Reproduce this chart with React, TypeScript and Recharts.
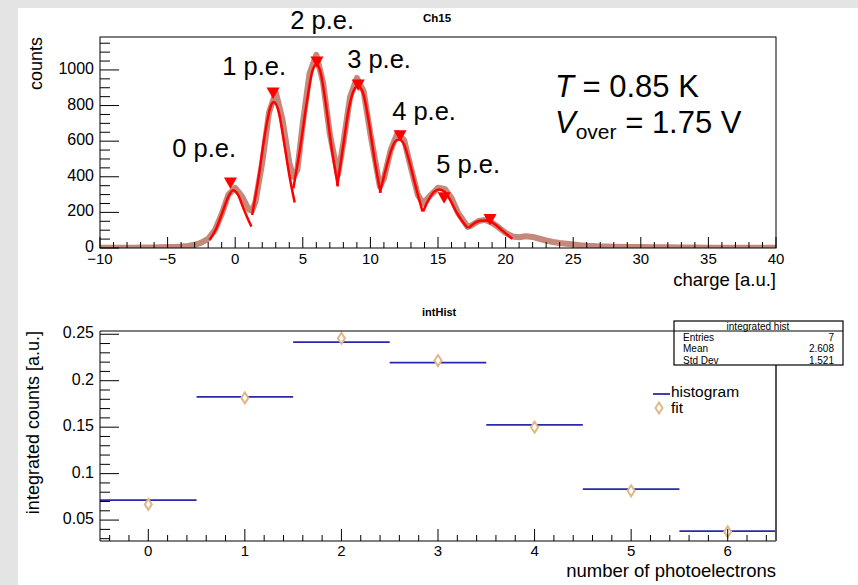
import React from 'react';
import { ComposedChart, Line, Scatter, XAxis, YAxis, ReferenceDot } from 'recharts';

const FONT = '"Liberation Sans", Arial, Helvetica, sans-serif';

// charge spectrum (bin centre, counts)
const histCharge = [
  -10, -9.5, -9, -8.5, -8, -7.5, -7, -6.5, -6, -5.5, -5, -4.5, -4, -3.5, -3, -2.5, -2, -1.5, -1, -0.5,
  0, 0.5, 1, 1.25, 1.5, 2, 2.5, 3, 3.5, 4, 4.3, 4.6, 5, 5.5, 6, 6.5, 7, 7.6, 8, 8.5, 9, 9.5, 10, 10.7,
  11, 11.5, 12, 12.5, 13, 13.5, 13.9, 14.5, 15, 15.5, 16, 16.5, 17.2, 17.5, 18, 18.5, 19, 19.5, 20, 20.5,
  21, 21.5, 22, 22.5, 23, 23.5, 24, 24.5, 25, 25.5, 26, 26.5, 27, 27.5, 28, 29, 30, 31, 32, 33, 34, 35,
  36, 37, 38, 39, 40,
];
const histCounts = [
  2, 2, 2, 2, 2, 2, 3, 3, 3, 4, 5, 6, 8, 12, 18, 30, 52, 100, 190, 300,
  338, 290, 215, 210, 260, 480, 760, 875, 720, 480, 400, 440, 700, 980, 1085, 930, 640, 410, 590, 850, 955, 880, 640, 345,
  390, 550, 645, 605, 450, 300, 250, 300, 338, 332, 280, 195, 118, 128, 152, 158, 142, 115, 85, 65,
  60, 66, 62, 52, 42, 34, 28, 24, 20, 16, 13, 11, 9, 8, 7, 6, 5, 4, 4, 3, 3, 2,
  2, 2, 2, 1, 1,
];

// gaussian fit pieces, one per peak
const fitCharge = [
  [-1.9, -1.4, -0.9, -0.5, -0.15, 0.2, 0.6, 0.9, 1.2],
  [1.25, 1.7, 2.2, 2.6, 2.85, 3.2, 3.6, 4.0, 4.4],
  [4.3, 4.8, 5.3, 5.7, 6.0, 6.3, 6.7, 7.1, 7.6],
  [7.55, 8.0, 8.4, 8.8, 9.1, 9.5, 9.9, 10.3, 10.75],
  [10.7, 11.1, 11.5, 11.85, 12.15, 12.5, 12.9, 13.3, 13.85],
  [13.9, 14.3, 14.7, 15.1, 15.5, 15.9, 16.3, 16.8, 17.2],
  [17.25, 17.7, 18.1, 18.5, 18.9, 19.3, 19.7, 20.1, 20.5],
];
const fitCounts = [
  [45, 110, 210, 290, 325, 300, 225, 170, 120],
  [185, 380, 640, 790, 820, 770, 600, 410, 255],
  [335, 560, 820, 990, 1030, 990, 810, 580, 345],
  [350, 580, 780, 890, 910, 860, 700, 500, 310],
  [310, 430, 540, 600, 610, 580, 480, 360, 205],
  [205, 270, 315, 328, 315, 270, 210, 150, 112],
  [112, 140, 153, 155, 148, 128, 102, 76, 52],
];

// found peaks
const peakCharge = [-0.35, 2.8, 6.05, 9.1, 12.2, 15.45, 18.85];
const peakCounts = [365, 870, 1045, 915, 630, 282, 160];

const peakLabels = ['0 p.e.', '1 p.e.', '2 p.e.', '3 p.e.', '4 p.e.', '5 p.e.'];
const labelCharge = [-4.66, -0.96, 4.07, 8.28, 11.61, 14.87];
const labelCounts = [511, 972, 1230, 1011, 719, 421];

const topXMajor = [-10, -5, 0, 5, 10, 15, 20, 25, 30, 35, 40];
const topYMajor = [0, 200, 400, 600, 800, 1000];

// integrated histogram
const nPe = [0, 1, 2, 3, 4, 5, 6];
const histFrac = [0.0715, 0.1825, 0.2415, 0.2195, 0.1525, 0.0833, 0.0382];
const fitFrac = [0.0669, 0.1815, 0.2457, 0.2217, 0.1500, 0.0815, 0.0374];
const botYMajor = [0.05, 0.1, 0.15, 0.2, 0.25];
const botYLabels = ['0.05', '0.1', '0.15', '0.2', '0.25'];

const statsNames = ['Entries', 'Mean', 'Std Dev'];
const statsValues = ['7', '2.608', '1.521'];

const range = (a: number, b: number, step: number, dp: number) => {
  const out: number[] = [];
  for (let v = a; v <= b + step / 2; v += step) out.push(+v.toFixed(dp));
  return out;
};

const topXTicks = range(-10, 40, 1, 0);
const topYTicks = range(0, 1150, 50, 0);
const botXTicks = range(-0.4, 6.4, 0.2, 1);
const botYTicks = range(0.03, 0.25, 0.01, 2);

const histData = histCharge.map((x, i) => ({ x, y: histCounts[i] }));
const fitData = fitCharge.map((xs, k) => xs.map((x, i) => ({ x, y: fitCounts[k][i] })));
const peakData = peakCharge.map((x, i) => ({ x, y: peakCounts[i] }));

const binData: { x: number; y: number | null }[] = [];
nPe.forEach((n, i) => {
  binData.push({ x: n - 0.5, y: histFrac[i] });
  binData.push({ x: n + 0.5, y: histFrac[i] });
  binData.push({ x: n + 0.5, y: null });
});
const fitPoints = nPe.map((n, i) => ({ x: n, y: fitFrac[i] }));

const near = (v: number, list: number[]) => list.some((m) => Math.abs(m - v) < 1e-6);
const minus = (v: number) => (v < 0 ? `\u2212${Math.abs(v)}` : `${v}`);

// ROOT style: ticks point into the frame, labels only on majors
const makeXTick = (majors: number[], majLen: number, minLen: number, dy: number, fmt: (v: number) => string) =>
  (props: any) => {
    const { x, y, payload } = props;
    const major = near(payload.value, majors);
    return (
      <g>
        <line x1={x} x2={x} y1={y} y2={y - (major ? majLen : minLen)} stroke="#000" strokeWidth={1} />
        {major && (
          <text x={x} y={y + dy} textAnchor="middle" fontSize={15} fontFamily={FONT} fill="#000">
            {fmt(payload.value)}
          </text>
        )}
      </g>
    );
  };

const makeYTick = (majors: number[], majLen: number, minLen: number, fmt: (v: number) => string) =>
  (props: any) => {
    const { x, y, payload } = props;
    const major = near(payload.value, majors);
    return (
      <g>
        <line x1={x} x2={x + (major ? majLen : minLen)} y1={y} y2={y} stroke="#000" strokeWidth={1} />
        {major && (
          <text x={x - 6} y={y + 4} textAnchor="end" fontSize={16} fontFamily={FONT} fill="#000">
            {fmt(payload.value)}
          </text>
        )}
      </g>
    );
  };

const downTriangle = (p: any) => (
  <polygon points={`${p.cx - 6.5},${p.cy - 5.5} ${p.cx + 6.5},${p.cy - 5.5} ${p.cx},${p.cy + 6}`} fill="#ff0000" />
);

const openDiamond = (p: any) => (
  <polygon
    points={`${p.cx},${p.cy - 5.5} ${p.cx + 3.5},${p.cy} ${p.cx},${p.cy + 5.5} ${p.cx - 3.5},${p.cy}`}
    fill="#fff"
    stroke="#deb887"
    strokeWidth={2}
  />
);

function SpectrumPlot() {
  return (
    <ComposedChart
      width={858}
      height={290}
      margin={{ top: 37, right: 82, bottom: 41, left: 99 }}
      style={{ position: 'absolute', left: 0, top: 0 }}
    >
      <XAxis
        dataKey="x"
        type="number"
        domain={[-10, 40]}
        ticks={topXTicks}
        interval={0}
        height={1}
        tickSize={0}
        tickMargin={0}
        axisLine={false}
        tickLine={false}
        tick={makeXTick(topXMajor, 11, 6, 16, minus)}
        allowDataOverflow
      />
      <YAxis
        type="number"
        domain={[0, 1185]}
        ticks={topYTicks}
        interval={0}
        width={1}
        tickSize={0}
        tickMargin={0}
        axisLine={false}
        tickLine={false}
        tick={makeYTick(topYMajor, 19, 10, (v) => `${v}`)}
        allowDataOverflow
      />
      <Line
        data={histData}
        dataKey="y"
        type="linear"
        stroke="#c4897a"
        strokeWidth={6}
        strokeLinejoin="round"
        dot={false}
        activeDot={false}
        isAnimationActive={false}
      />
      {fitData.map((d, k) => (
        <Line
          key={k}
          data={d}
          dataKey="y"
          type="monotone"
          stroke="#ff0000"
          strokeWidth={2.5}
          dot={false}
          activeDot={false}
          isAnimationActive={false}
        />
      ))}
      <Scatter data={peakData} dataKey="y" shape={downTriangle} isAnimationActive={false} />
      {peakLabels.map((t, i) => (
        <ReferenceDot
          key={t}
          x={labelCharge[i]}
          y={labelCounts[i]}
          r={0}
          ifOverflow="visible"
          shape={(p: any) => (
            <text x={p.cx} y={p.cy} fontSize={25.5} fontFamily={FONT} fill="#000">
              {t}
            </text>
          )}
        />
      ))}
    </ComposedChart>
  );
}

function IntegralPlot() {
  return (
    <ComposedChart
      width={858}
      height={295}
      margin={{ top: 41, right: 82, bottom: 43, left: 99 }}
      style={{ position: 'absolute', left: 0, top: 290 }}
    >
      <XAxis
        dataKey="x"
        type="number"
        domain={[-0.5, 6.5]}
        ticks={botXTicks}
        interval={0}
        height={1}
        tickSize={0}
        tickMargin={0}
        axisLine={false}
        tickLine={false}
        tick={makeXTick(nPe, 12, 6, 14.5, (v) => `${v}`)}
        allowDataOverflow
      />
      <YAxis
        type="number"
        domain={[0.0275, 0.2535]}
        ticks={botYTicks}
        interval={0}
        width={1}
        tickSize={0}
        tickMargin={0}
        axisLine={false}
        tickLine={false}
        tick={makeYTick(botYMajor, 19, 10, (v) => botYLabels[botYMajor.findIndex((m) => Math.abs(m - v) < 1e-6)])}
        allowDataOverflow
      />
      <Line
        data={binData}
        dataKey="y"
        type="linear"
        stroke="#2a2aa8"
        strokeWidth={1.8}
        connectNulls={false}
        dot={false}
        activeDot={false}
        isAnimationActive={false}
      />
      <Scatter data={fitPoints} dataKey="y" shape={openDiamond} isAnimationActive={false} />
    </ComposedChart>
  );
}

function Overlay() {
  return (
    <svg
      width={858}
      height={585}
      style={{ position: 'absolute', left: 0, top: 0, pointerEvents: 'none' }}
      fontFamily={FONT}
    >
      {/* top frame */}
      <rect x={100} y={37} width={676} height={211} fill="none" stroke="#000" strokeWidth={1} />
      <text x={423} y={22} fontSize={11.5} fontWeight="bold">Ch15</text>
      <text transform="translate(42,37) rotate(-90)" textAnchor="end" fontSize={18}>counts</text>
      <text x={776} y={286} textAnchor="end" fontSize={18.5}>charge [a.u.]</text>
      <text x={555} y={97} fontSize={31}>
        <tspan fontStyle="italic">T</tspan> = 0.85 K
      </text>
      <text x={555} y={133} fontSize={31}>
        <tspan fontStyle="italic">V</tspan>
        <tspan fontSize={21} dy={6}>over</tspan>
        <tspan dy={-6}> = 1.75 V</tspan>
      </text>

      {/* bottom frame */}
      <line x1={100} y1={331} x2={776} y2={331} stroke="#000" strokeWidth={1} />
      <line x1={100} y1={331} x2={100} y2={541} stroke="#000" strokeWidth={1} />
      <line x1={100} y1={541} x2={776} y2={541} stroke="#000" strokeWidth={1} />
      <line x1={776} y1={331} x2={776} y2={541} stroke="#555" strokeWidth={2} />
      <text x={422} y={316} fontSize={11} fontWeight="bold">intHist</text>
      <text transform="translate(39,331) rotate(-90)" textAnchor="end" fontSize={18}>
        integrated counts [a.u.]
      </text>
      <text x={776} y={577} textAnchor="end" fontSize={18.5}>number of photoelectrons</text>

      {/* stats box */}
      <rect x={674} y={321} width={169} height={44} fill="#fff" stroke="#000" strokeWidth={1.2} />
      <line x1={674} y1={331} x2={843} y2={331} stroke="#000" strokeWidth={1} />
      <text x={758} y={330} textAnchor="middle" fontSize={10}>integrated hist</text>
      {statsNames.map((n, i) => (
        <g key={n}>
          <text x={683} y={341 + i * 11.3} fontSize={10}>{n}</text>
          <text x={834} y={341 + i * 11.3} textAnchor="end" fontSize={10}>{statsValues[i]}</text>
        </g>
      ))}

      {/* legend */}
      <line x1={653} y1={394} x2={670} y2={394} stroke="#2a2aa8" strokeWidth={1.8} />
      <text x={671} y={397} fontSize={15.5}>histogram</text>
      <polygon points="659,402.5 662.5,408 659,413.5 655.5,408" fill="#fff" stroke="#deb887" strokeWidth={2} />
      <text x={671} y={413} fontSize={15.5}>fit</text>
    </svg>
  );
}

export default function App() {
  return (
    <div style={{ position: 'absolute', left: 0, top: 0, width: 858, height: 585, background: '#e4e4e4', overflow: 'hidden' }}>
      <div style={{ position: 'absolute', left: 18, top: 8, width: 840, height: 577, background: '#fff' }} />
      <SpectrumPlot />
      <IntegralPlot />
      <Overlay />
    </div>
  );
}
